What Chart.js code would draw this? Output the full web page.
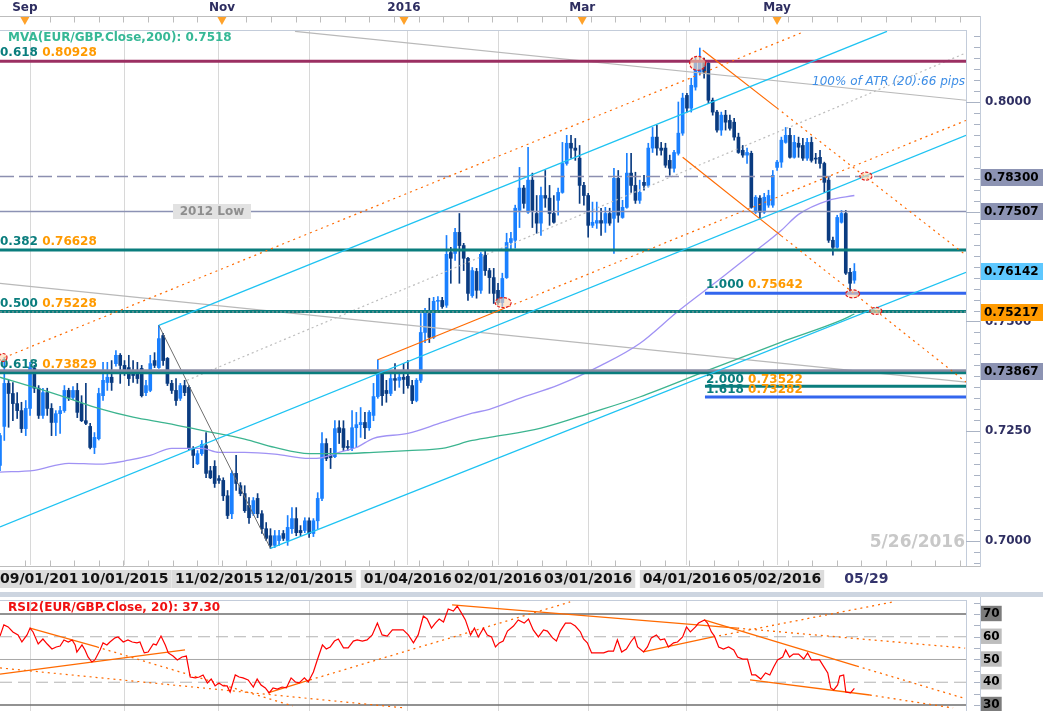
<!DOCTYPE html>
<html>
<head>
<meta charset="utf-8">
<script src="https://cdn.jsdelivr.net/npm/chart.js@4.4.1/dist/chart.umd.min.js"></script>
<style>
  html, body { margin: 0; padding: 0; background: #fff; }
  #wrap { position: relative; width: 1043px; height: 711px; overflow: hidden; background: #fff; }
  #price { position: absolute; left: 0; top: 0; }
  #rsi { position: absolute; left: 0; top: 597px; }
</style>
</head>
<body>
<div id="wrap">
  <canvas id="price" width="1043" height="597"></canvas>
  <canvas id="rsi" width="1043" height="114"></canvas>
</div>
<script>
// EUR/GBP daily candles, 21 Aug 2015 .. 26 May 2016 (x = trading-day index)
const openP = [0.7172,0.7261,0.7359,0.7336,0.7313,0.7297,0.7256,0.7302,0.7393,0.7348,
0.7286,0.7338,0.7302,0.7270,0.7290,0.7297,0.7343,0.7327,0.7343,0.7313,
0.7274,0.7261,0.7213,0.7233,0.7331,0.7361,0.7373,0.7404,0.7423,0.7400,
0.7395,0.7388,0.7388,0.7393,0.7338,0.7343,0.7411,0.7395,0.7468,0.7416,
0.7359,0.7343,0.7325,0.7354,0.7350,0.7211,0.7176,0.7199,0.7217,0.7160,
0.7170,0.7142,0.7138,0.7103,0.7062,0.7154,0.7126,0.7108,0.7081,0.7062,
0.7097,0.7062,0.7028,0.7012,0.6990,0.7001,0.7017,0.7001,0.7028,0.7051,
0.7024,0.7024,0.7046,0.7017,0.7046,0.7097,0.7222,0.7195,0.7192,0.7258,
0.7256,0.7215,0.7211,0.7258,0.7265,0.7270,0.7258,0.7286,0.7329,0.7382,
0.7343,0.7336,0.7370,0.7366,0.7373,0.7375,0.7354,0.7320,0.7366,0.7475,
0.7518,0.7464,0.7546,0.7548,0.7537,0.7657,0.7655,0.7703,0.7673,0.7644,
0.7559,0.7614,0.7571,0.7651,0.7616,0.7600,0.7571,0.7543,0.7600,0.7680,
0.7685,0.7753,0.7804,0.7749,0.7822,0.7746,0.7724,0.7787,0.7781,0.7746,
0.7776,0.7794,0.7860,0.7906,0.7895,0.7872,0.7810,0.7787,0.7719,0.7724,
0.7730,0.7724,0.7746,0.7735,0.7826,0.7737,0.7760,0.7838,0.7810,0.7776,
0.7817,0.7810,0.7895,0.7920,0.7895,0.7895,0.7867,0.7849,0.7883,0.7929,
0.8015,0.7986,0.8034,0.8068,0.8093,0.8088,0.8004,0.7977,0.7936,0.7970,
0.7958,0.7954,0.7920,0.7890,0.7879,0.7883,0.7749,0.7781,0.7749,0.7765,
0.7765,0.7851,0.7863,0.7908,0.7924,0.7874,0.7906,0.7901,0.7872,0.7908,
0.7872,0.7874,0.7860,0.7822,0.7685,0.7669,0.7726,0.7746,0.7612,0.7594];
const highP = [0.7245,0.7418,0.7366,0.7361,0.7338,0.7316,0.7320,0.7407,0.7400,0.7354,
0.7348,0.7348,0.7313,0.7297,0.7307,0.7354,0.7348,0.7352,0.7359,0.7331,
0.7359,0.7268,0.7247,0.7348,0.7407,0.7407,0.7411,0.7434,0.7427,0.7411,
0.7423,0.7411,0.7407,0.7400,0.7366,0.7423,0.7429,0.7491,0.7473,0.7418,
0.7366,0.7370,0.7359,0.7366,0.7354,0.7215,0.7206,0.7229,0.7247,0.7170,
0.7183,0.7149,0.7144,0.7115,0.7160,0.7195,0.7133,0.7126,0.7099,0.7099,
0.7108,0.7069,0.7042,0.7028,0.7024,0.7024,0.7024,0.7058,0.7076,0.7076,
0.7035,0.7053,0.7053,0.7051,0.7110,0.7247,0.7233,0.7211,0.7274,0.7274,
0.7274,0.7229,0.7297,0.7293,0.7304,0.7293,0.7297,0.7359,0.7413,0.7388,
0.7366,0.7388,0.7404,0.7388,0.7404,0.7411,0.7366,0.7370,0.7518,0.7530,
0.7553,0.7555,0.7557,0.7555,0.7696,0.7669,0.7712,0.7746,0.7678,0.7646,
0.7623,0.7621,0.7657,0.7662,0.7621,0.7621,0.7587,0.7610,0.7701,0.7703,
0.7765,0.7851,0.7810,0.7897,0.7838,0.7787,0.7806,0.7844,0.7810,0.7787,
0.7804,0.7908,0.7924,0.7924,0.7917,0.7901,0.7817,0.7792,0.7772,0.7772,
0.7758,0.7760,0.7758,0.7849,0.7844,0.7776,0.7883,0.7883,0.7840,0.7822,
0.7833,0.7906,0.7942,0.7947,0.7908,0.7906,0.7879,0.7890,0.8000,0.8020,
0.8020,0.8054,0.8102,0.8123,0.8100,0.8095,0.8009,0.7981,0.7977,0.7981,
0.7970,0.7963,0.7929,0.7901,0.7895,0.7888,0.7787,0.7787,0.7792,0.7799,
0.7844,0.7867,0.7920,0.7942,0.7940,0.7924,0.7920,0.7917,0.7917,0.7920,
0.7883,0.7890,0.7863,0.7828,0.7692,0.7742,0.7753,0.7753,0.7621,0.7632];
const lowP = [0.7160,0.7229,0.7259,0.7274,0.7279,0.7247,0.7240,0.7286,0.7338,0.7279,
0.7279,0.7286,0.7240,0.7240,0.7245,0.7293,0.7320,0.7322,0.7281,0.7272,
0.7265,0.7210,0.7199,0.7230,0.7320,0.7343,0.7343,0.7398,0.7359,0.7377,
0.7354,0.7361,0.7359,0.7328,0.7331,0.7340,0.7395,0.7393,0.7400,0.7354,
0.7336,0.7309,0.7320,0.7331,0.7208,0.7167,0.7174,0.7195,0.7144,0.7142,
0.7122,0.7131,0.7092,0.7051,0.7051,0.7115,0.7103,0.7065,0.7040,0.7058,
0.7053,0.7017,0.7001,0.6983,0.6985,0.6990,0.7001,0.6990,0.7017,0.7012,
0.7012,0.7019,0.7008,0.7010,0.7028,0.7092,0.7183,0.7165,0.7190,0.7222,
0.7206,0.7206,0.7206,0.7213,0.7236,0.7233,0.7252,0.7274,0.7325,0.7309,
0.7316,0.7331,0.7343,0.7350,0.7336,0.7348,0.7313,0.7317,0.7361,0.7452,
0.7452,0.7461,0.7525,0.7530,0.7532,0.7587,0.7639,0.7587,0.7616,0.7548,
0.7555,0.7553,0.7564,0.7605,0.7564,0.7541,0.7539,0.7534,0.7598,0.7662,
0.7667,0.7714,0.7758,0.7746,0.7714,0.7701,0.7696,0.7760,0.7719,0.7724,
0.7742,0.7792,0.7856,0.7872,0.7867,0.7769,0.7765,0.7692,0.7714,0.7712,
0.7696,0.7703,0.7719,0.7655,0.7726,0.7735,0.7758,0.7794,0.7769,0.7769,
0.7799,0.7806,0.7885,0.7879,0.7879,0.7851,0.7833,0.7840,0.7879,0.7924,
0.7977,0.7977,0.8027,0.8061,0.8054,0.7997,0.7970,0.7931,0.7924,0.7936,
0.7936,0.7913,0.7883,0.7874,0.7860,0.7758,0.7746,0.7735,0.7746,0.7760,
0.7760,0.7844,0.7851,0.7906,0.7872,0.7872,0.7874,0.7867,0.7867,0.7863,
0.7860,0.7849,0.7794,0.7680,0.7651,0.7667,0.7724,0.7607,0.7566,0.7587];
const closeP = [0.7240,0.7359,0.7336,0.7313,0.7297,0.7256,0.7302,0.7395,0.7348,0.7286,
0.7338,0.7302,0.7270,0.7290,0.7297,0.7343,0.7327,0.7343,0.7293,0.7274,
0.7268,0.7213,0.7236,0.7336,0.7366,0.7373,0.7361,0.7423,0.7400,0.7384,
0.7370,0.7377,0.7370,0.7331,0.7354,0.7404,0.7400,0.7461,0.7411,0.7359,
0.7343,0.7320,0.7354,0.7338,0.7211,0.7195,0.7199,0.7220,0.7154,0.7144,
0.7131,0.7138,0.7103,0.7058,0.7154,0.7131,0.7108,0.7069,0.7053,0.7092,
0.7062,0.7028,0.7006,0.6990,0.7012,0.7012,0.7006,0.7031,0.7051,0.7019,
0.7019,0.7046,0.7017,0.7046,0.7097,0.7222,0.7188,0.7190,0.7256,0.7247,
0.7213,0.7213,0.7258,0.7265,0.7270,0.7258,0.7293,0.7329,0.7382,0.7331,
0.7336,0.7370,0.7366,0.7373,0.7368,0.7354,0.7320,0.7366,0.7475,0.7523,
0.7464,0.7546,0.7548,0.7534,0.7653,0.7644,0.7703,0.7673,0.7644,0.7564,
0.7616,0.7571,0.7653,0.7616,0.7600,0.7564,0.7543,0.7598,0.7680,0.7689,
0.7758,0.7804,0.7769,0.7822,0.7753,0.7724,0.7787,0.7781,0.7746,0.7726,
0.7794,0.7860,0.7906,0.7895,0.7890,0.7810,0.7787,0.7719,0.7726,0.7730,
0.7724,0.7746,0.7724,0.7826,0.7742,0.7760,0.7838,0.7810,0.7776,0.7794,
0.7810,0.7895,0.7920,0.7895,0.7890,0.7856,0.7849,0.7885,0.7929,0.8009,
0.7986,0.8038,0.8095,0.8093,0.8068,0.8004,0.7977,0.7936,0.7970,0.7954,
0.7940,0.7920,0.7885,0.7879,0.7885,0.7760,0.7783,0.7749,0.7783,0.7787,
0.7833,0.7863,0.7913,0.7924,0.7874,0.7908,0.7897,0.7872,0.7908,0.7867,
0.7870,0.7860,0.7817,0.7685,0.7669,0.7737,0.7746,0.7610,0.7587,0.7614];

// moving averages (index, value)
const ma200Idx = [0,8,16,23,31,39,47,57,64,72,79,87,95,103,110,114,126,138,149,165,182,196,199];
const ma200Val = [0.7373,0.7350,0.7325,0.7302,0.7282,0.7268,0.7252,0.7232,0.7213,0.7199,0.7199,0.7202,0.7206,0.7211,0.7229,0.7236,0.7257,0.7293,0.7328,0.7389,0.7453,0.7503,0.7517];
const maShortIdx = [0,8,16,23,30,35,40,47,51,57,64,72,75,79,83,87,95,103,110,114,121,130,140,149,158,168,175,182,186,193,199];
const maShortVal = [0.7157,0.7161,0.7177,0.7175,0.7184,0.7195,0.7211,0.7211,0.7202,0.7202,0.7198,0.7188,0.7190,0.7202,0.7213,0.7234,0.7245,0.7270,0.7291,0.7300,0.7325,0.7355,0.7400,0.7450,0.7524,0.7599,0.7653,0.7708,0.7744,0.7776,0.7787];

// trend lines [index, price]
const cyanUpper = [[37,0.7491],[206.6,0.8161]];
const cyanMiddle = [[0,0.7032],[225,0.7924]];
const cyanLower = [[63,0.6983],[225,0.7612]];
const orangeUpper = [[1,0.7418],[187,0.8159]];
const orangeMid = [[88,0.7413],[117.2,0.7529],[225,0.7958]];
const orangeDownA = [[163.7,0.8118],[181,0.7986],[225,0.7651]];
const orangeDownB = [[159,0.7874],[182,0.7695],[225,0.7362]];
const grayTop = [[68.7,0.8161],[225,0.8004]];
const grayMid = [[0,0.7587],[225,0.7362]];
const grayDotted = [[43.6,0.7366],[224.8,0.8111]];
const octDrop = [[37,0.7491],[63,0.6983]];

// levels
const fibLeftRatio = ['0.618','0.382','0.500','0.618'];
const fibLeftLevel = [0.80928,0.76628,0.75228,0.73829];
const fibRightRatio = ['1.000','2.000','1.618'];
const fibRightLevel = [0.75642,0.73522,0.73282];
const fibRightStart = 164.2;
const level2012Low = 0.77507;
const levelDashed = 0.78300;
const levelSupport = 0.73867;
const lastPrice = 0.76142;
const levelCurrent = 0.75217;
const boxLevels = [0.78300,0.77507,0.76142,0.75217,0.73867];
const priceTicks = [0.70,0.725,0.75,0.775,0.80];

const markerIdx = [0.7,117.2,162.5,198.6,204,201.7];
const markerVal = [0.7418,0.7543,0.8088,0.7563,0.7524,0.7831];

// RSI(20)
const rsiIdx = [0,0.9,1.9,3,4.2,5.1,6.3,7,7.7,8.9,10,11,12.1,13.1,14,14.9,15.9,16.8,17.5,17.9,
19.1,19.8,20.5,21.4,22.1,23.3,24,24.9,25.6,26.8,27.5,28.7,29.8,30.8,31.9,32.6,33.6,34.5,35.7,36.4,
37.5,38.5,39.2,40.3,41.3,42.4,43.4,44.3,45.5,46.4,47.3,48.3,49.2,50.1,51,52,52.9,53.6,54.8,55.7,
56.6,57.8,59,59.9,60.8,61.8,62.7,63.6,64.6,65.7,66.7,67.8,68.8,69.7,70.9,71.8,73,73.9,75.1,76,
76.9,77.9,78.8,80,81.1,82.3,83.2,84.4,85.5,86.7,87.9,89,90.2,91.4,92.5,93.9,95.1,96.3,97.4,98.6,
99.5,100.5,101.4,102.3,103.3,104.4,105.6,106.5,107.5,108.4,109.6,110.5,111.4,112.6,113.5,114.5,115.4,116.3,117.2,118.2,
119.6,120.7,122.1,123.1,124.2,125.4,126.6,127.5,128.7,129.6,130.5,131.7,132.9,134,135.2,135.9,136.8,137.8,139.2,140.6,
141.7,142.9,143.8,144.8,145.9,146.9,147.8,148.5,149.9,150.8,151.7,152.9,153.8,154.8,155.7,156.9,157.8,159,159.9,160.8,
162,162.7,164.1,164.8,165.7,166.4,167.4,168.5,169.7,170.9,171.8,173,174.1,175.1,176,177.2,178.3,179.3,180.2,181.1,
182.3,183,183.9,184.8,186,187.2,188.1,189,190,190.9,191.8,192.8,193.5,194.2,195.1,195.6,196.5,197,198.1,199];
const rsiVal = [60.3,65.2,64.3,62.1,60.8,57.7,60.8,63.8,62.1,56.8,59.0,56.8,54.6,55.5,55.9,58.6,57.7,58.6,56.4,53.3,
56.4,54.2,51.1,48.9,49.8,54.2,57.3,56.4,57.7,59.5,59.9,57.7,58.6,57.7,57.3,57.7,52.9,53.3,56.8,56.4,
60.3,56.4,52.9,51.5,49.8,51.1,51.5,42.3,41.9,42.3,43.2,39.7,41.4,38.4,39.7,38.4,38.4,35.7,43.2,42.3,
41.9,41.0,37.9,41.4,38.8,37.5,35.3,37.5,37.0,37.9,37.5,41.9,40.1,39.7,41.9,40.1,44.5,49.8,56.4,54.6,
55.5,58.1,59.0,55.1,55.1,58.1,58.6,58.1,58.6,60.8,66.0,60.8,60.3,63.0,63.0,63.0,60.8,57.3,60.8,69.1,
67.8,63.8,66.0,67.8,66.5,72.2,71.3,73.5,70.4,67.4,60.8,63.8,59.9,63.8,60.8,59.9,55.5,57.3,58.1,62.5,
64.7,67.4,66.0,67.8,63.0,59.9,63.0,62.5,59.5,58.1,62.5,66.0,66.0,64.7,62.1,59.0,57.3,52.9,52.9,52.9,
53.7,53.7,58.6,53.3,54.6,57.7,59.9,55.5,53.3,55.5,59.5,60.8,58.6,59.0,55.5,57.3,57.7,59.9,64.3,62.1,
64.3,66.0,67.4,66.0,62.1,60.3,55.5,54.6,55.5,54.2,51.1,50.2,50.2,43.2,43.2,41.4,44.1,43.2,46.7,49.8,
51.1,54.2,51.1,52.4,52.4,50.2,52.9,49.8,49.8,49.8,47.1,44.1,37.5,36.6,38.8,42.7,43.2,35.7,35.3,37.3];
const rsiLevels = [70,60,50,40,30];
const rsiA = [[7,63.8],[22.6,55.5],[68.2,29.6]];
const rsiB = [[0,43.6],[43.1,54.2]];
const rsiC = [[0,46.3],[94.3,28.7]];
const rsiD = [[62.4,35.3],[72.2,41.0],[132.8,75.3]];
const rsiE = [[105.3,74.0],[171.7,63.8],[224.8,55.0]];
const rsiF = [[149.8,53.3],[166.1,59.9],[208,75.3]];
const rsiG = [[164,67.4],[199.6,47.1],[224.3,33.1]];
const rsiH = [[174.7,41.0],[202.6,34.4],[222,28.7]];

// axis labels
const monthIdx = [7,29,51,72,95,116,137,160,181];
const dateLabels = ['09/01/2015','10/01/2015','11/02/2015','12/01/2015','01/04/2016','02/01/2016','03/01/2016','04/01/2016','05/02/2016'];
const topLabels = ['Sep','Nov','2016','Mar','May'];
const topIdx = [5.8,51.7,94.1,135.6,181];
const endLabelIdx = 201.8;

const FONT = '"DejaVu Sans", Verdana, sans-serif';
const X_MAX = 225;
const UP = '#1a80ff', DOWN = '#0a3b80';
const TEAL = '#0a7d7d', ORANGE = '#ff6a00';

const pts = arr => arr.map(p => ({ x: p[0], y: p[1] }));
const flat = (v, from) => [{ x: from, y: v }, { x: X_MAX, y: v }];
function lineDs(data, color, width, extra) {
  return Object.assign({ type: 'line', data, borderColor: color, borderWidth: width,
    pointRadius: 0, fill: false, tension: 0, order: 3 }, extra || {});
}
const dotAfter = n => ({ segment: { borderDash: c => c.p0DataIndex >= n ? [2, 4] : undefined } });

function txt(ctx, s, x, y, color, font, align) {
  ctx.font = font; ctx.fillStyle = color; ctx.textAlign = align || 'left'; ctx.textBaseline = 'middle';
  ctx.fillText(s, x, y);
}

const idx = closeP.map((_, i) => i);
const candleColors = idx.map(i => closeP[i] >= openP[i] ? UP : DOWN);

const mainDecor = {
  id: 'mainDecor',
  afterDraw(chart) {
    const { ctx, chartArea: a } = chart;
    const X = v => chart.scales.x.getPixelForValue(v);
    const Y = v => chart.scales.y.getPixelForValue(v);
    ctx.save();

    // top and bottom time strips
    ctx.strokeStyle = '#bdbdbd'; ctx.lineWidth = 1;
    ctx.beginPath();
    ctx.moveTo(0, 16.5); ctx.lineTo(980.5, 16.5);
    ctx.moveTo(0, 566.5); ctx.lineTo(980.5, 566.5);
    for (let t = 5.8; X(t) < 980; t += 5.73) {
      const p = Math.round(X(t)) + 0.5;
      ctx.moveTo(p, 16.5); ctx.lineTo(p, 22.5);
      ctx.moveTo(p, 560.5); ctx.lineTo(p, 566.5);
    }
    ctx.stroke();

    // frame + price axis line
    ctx.strokeStyle = '#c3ccda';
    ctx.beginPath();
    ctx.moveTo(0, a.top + 0.5); ctx.lineTo(a.right, a.top + 0.5);
    ctx.moveTo(a.right + 0.5, a.top); ctx.lineTo(a.right + 0.5, a.bottom + 1);
    ctx.moveTo(980.5, 16); ctx.lineTo(980.5, 567);
    ctx.stroke();

    ctx.strokeStyle = '#aab3c4';
    ctx.beginPath();
    for (let k = 0; k <= 50; k++) {
      const v = 0.695 + k * 0.0025;
      const p = Math.round(Y(v)) + 0.5;
      if (p < a.top || p > a.bottom) continue;
      ctx.moveTo(k % 10 === 2 ? a.right : 974, p); ctx.lineTo(980, p);
    }
    ctx.stroke();

    topLabels.forEach((s, k) => {
      const p = X(topIdx[k]);
      ctx.fillStyle = '#ffa22a';
      ctx.beginPath(); ctx.moveTo(p - 4.5, 17); ctx.lineTo(p + 4.5, 17); ctx.lineTo(p, 25); ctx.closePath(); ctx.fill();
      txt(ctx, s, p, 8, '#2d2d60', 'bold 12px ' + FONT, 'center');
    });

    ctx.font = 'bold 14px ' + FONT;
    dateLabels.forEach((s, k) => {
      ctx.font = 'bold 14px ' + FONT;
      const w = ctx.measureText(s).width;
      const left = Math.max(0, X(monthIdx[k]) - w / 2);
      ctx.fillStyle = '#dcdcdc';
      ctx.fillRect(Math.max(0, left - 3), 570, w + 6, 18);
      txt(ctx, s, left, 579.5, '#111', 'bold 14px ' + FONT, 'left');
    });
    txt(ctx, '05/29', X(endLabelIdx), 579.5, '#34346c', 'bold 14px ' + FONT, 'center');

    ctx.fillStyle = '#cdd5e0';
    ctx.fillRect(0, 592, 1043, 5);

    // price boxes on the axis
    const boxColors = ['#8c93b3', '#8c93b3', '#5ec8ff', '#ff9a00', '#8c93b3'];
    boxLevels.forEach((v, k) => {
      const p = Y(v);
      ctx.fillStyle = boxColors[k];
      ctx.fillRect(981, Math.round(p) - 8, 62, 17);
      txt(ctx, v.toFixed(5), 984, Math.round(p) + 0.5, '#000', 'bold 12px ' + FONT, 'left');
    });

    // fib labels
    const pair = (r, v, x0, y0) => {
      const f = 'bold 12px ' + FONT;
      ctx.font = f;
      const w = ctx.measureText(r + ' ').width;
      txt(ctx, r, x0, y0, TEAL, f, 'left');
      txt(ctx, v.toFixed(5), x0 + w, y0, '#ff9a00', f, 'left');
    };
    fibLeftRatio.forEach((r, k) => pair(r, fibLeftLevel[k], 0, Y(fibLeftLevel[k]) - 8));
    const rx = X(fibRightStart) + 1;
    pair(fibRightRatio[0], fibRightLevel[0], rx, Y(fibRightLevel[0]) - 8);
    pair(fibRightRatio[1], fibRightLevel[1], rx, Y(fibRightLevel[1]) - 6);
    pair(fibRightRatio[2], fibRightLevel[2], rx, Y(fibRightLevel[2]) - 7);

    txt(ctx, 'MVA(EUR/GBP.Close,200): 0.7518', 8, 38, '#36b896', 'bold 12px ' + FONT, 'left');
    txt(ctx, '100% of ATR (20):66 pips', a.right - 1, 82, '#3e8ee6', 'italic 12px ' + FONT, 'right');
    txt(ctx, '5/26/2016', a.right - 1, 543, '#c8c8c8', 'bold 17px ' + FONT, 'right');

    const ly = Y(level2012Low);
    ctx.fillStyle = '#e2e2e2';
    ctx.fillRect(173, Math.round(ly) - 7, 78, 15);
    txt(ctx, '2012 Low', 212, ly + 0.5, '#8e8e8e', 'bold 12px ' + FONT, 'center');

    // swing markers
    const rxs = [4, 8, 8, 7, 6, 6], rys = [4, 5, 7, 4, 3.5, 4];
    markerIdx.forEach((m, k) => {
      ctx.beginPath();
      ctx.ellipse(X(m), Y(markerVal[k]), rxs[k], rys[k], 0, 0, Math.PI * 2);
      ctx.fillStyle = 'rgba(255,215,175,0.6)'; ctx.fill();
      ctx.setLineDash([3, 1.5]); ctx.strokeStyle = '#e01b1b'; ctx.lineWidth = 1.2; ctx.stroke();
      ctx.setLineDash([]);
    });
    ctx.restore();
  }
};

const xScale = {
  type: 'linear', min: 0, max: X_MAX, offset: false,
  afterBuildTicks: s => { s.ticks = monthIdx.map(v => ({ value: v })); },
  ticks: { display: false },
  grid: { color: '#d8d8d8', drawTicks: false, offset: false },
  border: { display: false },
  afterFit: s => { s.height = 0; s.paddingLeft = 0; s.paddingRight = 0; }
};

new Chart(document.getElementById('price'), {
  type: 'bar',
  data: {
    datasets: [
      { type: 'bar', data: idx.map(i => ({ x: i, y: [lowP[i], highP[i]] })), backgroundColor: candleColors,
        barThickness: 1, grouped: false, order: 20 },
      { type: 'bar', data: idx.map(i => ({ x: i, y: [openP[i], closeP[i]] })), backgroundColor: candleColors,
        barThickness: 3, minBarLength: 1, grouped: false, order: 19 },
      lineDs(ma200Idx.map((v, k) => ({ x: v, y: ma200Val[k] })), '#3cb48f', 1.3, { cubicInterpolationMode: 'monotone', order: 8 }),
      lineDs(maShortIdx.map((v, k) => ({ x: v, y: maShortVal[k] })), '#a092f4', 1.3, { cubicInterpolationMode: 'monotone', order: 8 }),
      lineDs(pts(grayTop), '#b9b9b9', 1.2, { order: 9 }),
      lineDs(pts(grayMid), '#b9b9b9', 1.2, { order: 9 }),
      lineDs(pts(grayDotted), '#bdbdbd', 1.2, { borderDash: [2, 3], order: 9 }),
      lineDs(pts(octDrop), '#6f6f6f', 1, { order: 7 }),
      lineDs(pts(cyanUpper), '#1ec3f2', 1.3),
      lineDs(pts(cyanMiddle), '#1ec3f2', 1.3),
      lineDs(pts(cyanLower), '#1ec3f2', 1.3),
      lineDs(pts(orangeUpper), ORANGE, 1.2, { borderDash: [2, 4] }),
      lineDs(pts(orangeMid), ORANGE, 1.2, dotAfter(1)),
      lineDs(pts(orangeDownA), ORANGE, 1.2, dotAfter(1)),
      lineDs(pts(orangeDownB), ORANGE, 1.2, dotAfter(1)),
      lineDs(flat(fibLeftLevel[0], 0), '#9b2f62', 3, { order: 5 }),
      lineDs(flat(levelDashed, 0), '#8c8fb0', 1.5, { borderDash: [14, 5], order: 5 }),
      lineDs(flat(level2012Low, 0), '#8c92b4', 1.5, { order: 5 }),
      lineDs(flat(fibLeftLevel[1], 0), TEAL, 3, { order: 5 }),
      lineDs(flat(fibRightLevel[0], fibRightStart), '#3366ee', 3, { order: 5 }),
      lineDs(flat(levelCurrent, 0), '#a0a0a0', 1, { borderDash: [2, 2], order: 4 }),
      lineDs(flat(fibLeftLevel[2], 0), TEAL, 3, { order: 5 }),
      lineDs(flat(fibLeftLevel[3], 0), TEAL, 2.5, { order: 5 }),
      lineDs(flat(levelSupport, 0), '#8a8ca4', 4, { order: 6 }),
      lineDs(flat(fibRightLevel[1], fibRightStart), TEAL, 3, { order: 5 }),
      lineDs(flat(fibRightLevel[2], fibRightStart), '#3366ee', 3, { order: 5 })
    ]
  },
  options: {
    responsive: false, animation: false, events: [],
    layout: { padding: { top: 30, bottom: 32, left: 0, right: 0 } },
    plugins: { legend: { display: false }, tooltip: { enabled: false } },
    scales: {
      x: xScale,
      y: {
        type: 'linear', position: 'right', min: 0.69453, max: 0.81640,
        afterBuildTicks: s => { s.ticks = priceTicks.map(v => ({ value: v })); },
        ticks: { callback: v => v.toFixed(4), color: '#2f2f62', padding: 19,
                 font: { family: 'DejaVu Sans', weight: 'bold', size: 12 } },
        grid: { display: false, drawTicks: false },
        border: { display: false },
        afterFit: s => { s.width = 77; s.paddingTop = 0; s.paddingBottom = 0; }
      }
    }
  },
  plugins: [mainDecor]
});

const rsiDecor = {
  id: 'rsiDecor',
  afterDraw(chart) {
    const { ctx, chartArea: a } = chart;
    const Y = v => chart.scales.y.getPixelForValue(v);
    ctx.save();
    ctx.strokeStyle = '#c3ccda'; ctx.lineWidth = 1;
    ctx.beginPath();
    ctx.moveTo(0, a.top + 0.5); ctx.lineTo(a.right, a.top + 0.5);
    ctx.moveTo(a.right + 0.5, a.top); ctx.lineTo(a.right + 0.5, a.bottom);
    ctx.moveTo(980.5, 0); ctx.lineTo(980.5, a.bottom);
    ctx.stroke();
    ctx.strokeStyle = '#aab3c4';
    ctx.beginPath();
    for (let v = 30; v <= 75; v += 5) {
      const p = Math.round(Y(v)) + 0.5;
      ctx.moveTo(974, p); ctx.lineTo(980, p);
    }
    ctx.stroke();
    txt(ctx, 'RSI2(EUR/GBP.Close, 20): 37.30', 8, 11, '#f01010', 'bold 12px ' + FONT, 'left');
    ctx.restore();
  }
};

const levelStyle = { 70: ['#6e6e6e', 1.5, []], 60: ['#b4b4b4', 1, [12, 6]], 50: ['#a8a8a8', 1, []],
                     40: ['#b4b4b4', 1, [12, 6]], 30: ['#6e6e6e', 1.5, []] };

new Chart(document.getElementById('rsi'), {
  type: 'line',
  data: {
    datasets: [
      lineDs(rsiIdx.map((v, k) => ({ x: v, y: rsiVal[k] })), '#ff0000', 1.2, { order: 1 }),
      lineDs(pts(rsiA), ORANGE, 1.3, dotAfter(1)),
      lineDs(pts(rsiB), ORANGE, 1.3),
      lineDs(pts(rsiC), ORANGE, 1.2, { borderDash: [2, 4] }),
      lineDs(pts(rsiD), ORANGE, 1.3, dotAfter(1)),
      lineDs(pts(rsiE), ORANGE, 1.3, dotAfter(1)),
      lineDs(pts(rsiF), ORANGE, 1.3, dotAfter(1)),
      lineDs(pts(rsiG), ORANGE, 1.3, dotAfter(1)),
      lineDs(pts(rsiH), ORANGE, 1.3, dotAfter(1)),
      ...rsiLevels.map(v => lineDs(flat(v, 0), levelStyle[v][0], levelStyle[v][1], { borderDash: levelStyle[v][2], order: 6 }))
    ]
  },
  options: {
    responsive: false, animation: false, events: [],
    layout: { padding: { top: 3, bottom: 0, left: 0, right: 0 } },
    plugins: { legend: { display: false }, tooltip: { enabled: false } },
    scales: {
      x: xScale,
      y: {
        type: 'linear', position: 'right', min: 27.36, max: 76.15,
        afterBuildTicks: s => { s.ticks = rsiLevels.map(v => ({ value: v })); },
        ticks: { color: '#000', padding: 17, font: { family: 'DejaVu Sans', weight: 'bold', size: 12 },
                 showLabelBackdrop: true,
                 backdropColor: c => (c.tick && (c.tick.value === 70 || c.tick.value === 30)) ? '#7c7c7c' : '#bdbdbd',
                 backdropPadding: { left: 2, right: 2, top: 1, bottom: 0 } },
        grid: { display: false, drawTicks: false },
        border: { display: false },
        afterFit: s => { s.width = 77; s.paddingTop = 0; s.paddingBottom = 0; }
      }
    }
  },
  plugins: [rsiDecor]
});
</script>
</body>
</html>
